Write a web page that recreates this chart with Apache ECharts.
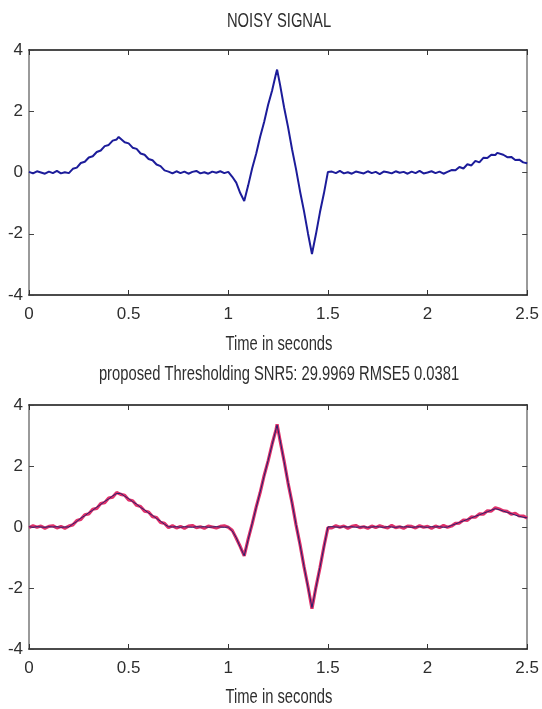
<!DOCTYPE html>
<html>
<head>
<meta charset="utf-8">
<script src="https://cdn.jsdelivr.net/npm/echarts@6/dist/echarts.min.js"></script>
<style>
html,body{margin:0;padding:0;background:#fff;}
#chart{width:542px;height:709px;}
</style>
</head>
<body>
<div id="chart"></div>
<script>
// Time samples (seconds)
var timeSec = [
  0,0.02,0.04,0.06,0.08,0.1,0.12,0.14,0.16,0.18,0.2,
  0.22,0.24,0.26,0.28,0.3,0.32,0.34,0.36,0.38,0.4,0.42,0.44,
  0.45,
  0.46,0.48,0.5,0.52,0.54,0.56,0.58,0.6,0.62,0.64,0.66,0.68,0.7,
  0.72,0.74,0.76,0.78,0.8,0.82,0.84,0.86,0.88,0.9,0.92,0.94,0.96,0.98,1.0,
  1.02,1.04,1.06,1.08,
  1.1,1.12,1.14,1.16,1.18,1.2,1.22,1.24,
  1.245,
  1.26,1.28,1.3,1.32,1.34,1.36,1.38,1.4,1.42,
  1.44,1.46,1.48,1.5,
  1.52,1.54,1.56,1.58,1.6,1.62,1.64,1.66,1.68,1.7,1.72,1.74,1.76,1.78,1.8,1.82,1.84,1.86,1.88,1.9,1.92,1.94,1.96,1.98,2.0,2.02,2.04,2.06,2.08,2.1,
  2.12,2.14,2.16,2.18,2.2,2.22,2.24,2.26,2.28,2.3,2.32,2.34,
  2.35,
  2.36,2.38,2.4,2.42,2.44,2.46,2.48,2.5
];

// Top panel: noisy signal
var noisySignal = [
  0.02,-0.03,0.04,0.00,-0.04,0.03,-0.02,0.05,-0.03,0.01,-0.02,
  0.12,0.16,0.31,0.35,0.49,0.53,0.67,0.72,0.86,0.90,1.04,1.08,
  1.16,
  1.12,0.99,0.95,0.81,0.77,0.62,0.58,0.44,0.40,0.26,0.21,0.07,0.03,
  -0.03,0.04,-0.02,0.03,-0.04,0.02,0.05,-0.03,0.01,-0.04,0.03,-0.01,0.04,-0.02,0.02,
  -0.14,-0.33,-0.67,-0.93,
  -0.42,0.14,0.61,1.17,1.65,2.21,2.68,3.24,
  3.36,
  2.86,2.13,1.48,0.76,0.11,-0.61,-1.26,-1.99,-2.66,
  -2.01,-1.30,-0.68,0.02,
  0.03,-0.02,0.05,-0.03,0.01,-0.04,0.03,0.00,-0.03,0.04,-0.02,0.02,-0.05,0.03,0.01,-0.03,0.04,-0.01,0.02,-0.04,0.03,-0.02,0.05,-0.03,0.00,0.04,-0.02,0.03,-0.04,0.02,
  0.08,0.07,0.18,0.13,0.27,0.23,0.38,0.33,0.48,0.47,0.58,0.57,
  0.64,
  0.60,0.58,0.50,0.51,0.41,0.42,0.33,0.30
];

// Bottom panel: noisy input (red) and thresholded result (blue)
var noisyInput = [
  -0.02,0.04,-0.01,0.03,-0.04,0.02,0.04,-0.03,0.02,-0.04,0.03,
  0.07,0.21,0.25,0.40,0.43,0.58,0.61,0.77,0.80,0.95,0.98,1.13,
  1.15,
  1.07,1.04,0.89,0.86,0.71,0.67,0.52,0.49,0.34,0.31,0.15,0.12,-0.02,
  0.04,-0.03,0.02,-0.04,0.03,0.05,-0.02,0.01,-0.04,0.03,0.00,-0.03,0.02,0.04,-0.01,
  -0.11,-0.37,-0.64,-0.95,
  -0.39,0.10,0.65,1.13,1.69,2.17,2.72,3.20,
  3.37,
  2.83,2.17,1.44,0.80,0.07,-0.57,-1.30,-1.95,-2.68,
  -1.97,-1.34,-0.64,-0.02,
  -0.03,0.04,-0.01,0.03,-0.04,0.02,0.05,-0.02,0.01,-0.04,0.03,-0.02,0.04,0.00,-0.03,0.05,-0.02,0.01,-0.04,0.03,0.02,-0.03,0.04,-0.01,0.02,-0.04,0.03,-0.02,0.05,-0.01,
  0.03,0.12,0.13,0.23,0.22,0.33,0.32,0.43,0.42,0.53,0.52,0.63,
  0.61,
  0.59,0.53,0.51,0.42,0.45,0.36,0.36,0.29
];

var denoised = [
  0.01,-0.01,0.01,0.00,-0.01,0.01,0.00,0.01,-0.01,0.00,0.00,
  0.10,0.18,0.29,0.37,0.47,0.55,0.65,0.74,0.84,0.92,1.02,1.10,
  1.14,
  1.10,1.01,0.93,0.83,0.75,0.64,0.56,0.46,0.38,0.28,0.19,0.09,0.01,
  0.00,0.01,-0.01,0.01,0.00,-0.01,0.01,0.00,0.01,-0.01,0.00,0.01,0.00,-0.01,0.00,
  -0.13,-0.35,-0.66,-0.94,
  -0.41,0.12,0.63,1.15,1.67,2.19,2.70,3.22,
  3.34,
  2.85,2.15,1.46,0.78,0.09,-0.59,-1.28,-1.97,-2.64,
  -1.99,-1.32,-0.66,0.00,
  0.01,0.00,-0.01,0.01,0.00,0.01,-0.01,0.00,0.01,-0.01,0.00,0.01,0.00,-0.01,0.01,0.00,-0.01,0.01,0.00,0.01,-0.01,0.00,0.01,0.00,-0.01,0.01,0.00,0.01,-0.01,0.00,
  0.05,0.10,0.15,0.20,0.25,0.30,0.35,0.40,0.45,0.50,0.55,0.60,
  0.62,
  0.57,0.52,0.48,0.44,0.39,0.35,0.32,0.30
];

var xTicks = {min: 0, max: 2.5, interval: 0.5};
var yTicks = {min: -4, max: 4, interval: 2};
var titleTop = 'NOISY SIGNAL';
var titleBottom = 'proposed Thresholding SNR5: 29.9969 RMSE5 0.0381';
var xLabel = 'Time in seconds';

function zip(t, v) {
  var out = [];
  for (var i = 0; i < t.length && i < v.length; i++) out.push([t[i], v[i]]);
  return out;
}

var FONT = "'Liberation Sans', Arial, sans-serif";
var TXT = '#2e2e2e';

function xAx(grid, pos, show) {
  return {
    type: 'value', gridIndex: grid, position: pos,
    min: xTicks.min, max: xTicks.max, interval: xTicks.interval,
    axisLine: {show: true, onZero: false, lineStyle: {color: '#111', width: 1.5}},
    axisTick: {show: true, inside: true, length: 5, lineStyle: {color: '#333'}},
    axisLabel: {show: show, color: TXT, fontFamily: FONT, fontSize: 17, margin: 11},
    splitLine: {show: false}
  };
}
function yAx(grid, pos, show) {
  return {
    type: 'value', gridIndex: grid, position: pos,
    min: yTicks.min, max: yTicks.max, interval: yTicks.interval,
    axisLine: {show: true, onZero: false, lineStyle: {color: '#9a9a9a', width: 2}},
    axisTick: {show: true, inside: true, length: 5, lineStyle: {color: '#444'}},
    axisLabel: {show: show, color: TXT, fontFamily: FONT, fontSize: 17, margin: 6},
    splitLine: {show: false}
  };
}

function label(text, cy) {
  return {
    type: 'text', x: 279, y: cy, scaleX: 0.82, scaleY: 1.1, silent: true,
    style: {text: text, fill: TXT, font: '18px ' + FONT, textAlign: 'center', textVerticalAlign: 'middle'}
  };
}

var chart = echarts.init(document.getElementById('chart'), null, {renderer: 'canvas'});
chart.setOption({
  animation: false,
  backgroundColor: '#fff',
  graphic: [
    label(titleTop, 22),
    label(xLabel, 345),
    label(titleBottom, 375),
    label(xLabel, 698)
  ],
  grid: [
    {left: 29, right: 13, top: 50, height: 245},
    {left: 29, right: 13, top: 405, height: 244}
  ],
  xAxis: [xAx(0, 'bottom', true), xAx(0, 'top', false), xAx(1, 'bottom', true), xAx(1, 'top', false)],
  yAxis: [yAx(0, 'left', true), yAx(0, 'right', false), yAx(1, 'left', true), yAx(1, 'right', false)],
  series: [
    {type: 'line', xAxisIndex: 0, yAxisIndex: 0, data: zip(timeSec, noisySignal), showSymbol: false,
     lineStyle: {color: '#1c1c9a', width: 2}},
    {type: 'line', xAxisIndex: 2, yAxisIndex: 2, data: zip(timeSec, noisyInput), showSymbol: false,
     lineStyle: {color: '#e0306a', width: 3.2}},
    {type: 'line', xAxisIndex: 2, yAxisIndex: 2, data: zip(timeSec, denoised), showSymbol: false,
     lineStyle: {color: '#22226e', width: 1}}
  ]
});
</script>
</body>
</html>
